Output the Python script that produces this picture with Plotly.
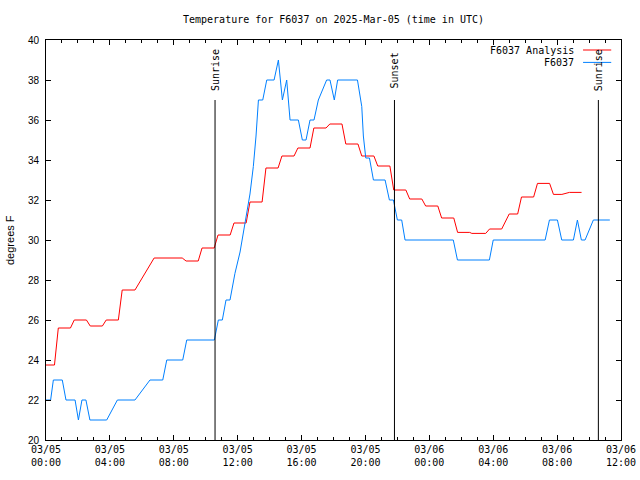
import pandas as pd
import plotly.graph_objects as go

# ---- data (hours after 2025-03-05 00:00 UTC, degrees F) ----
analysis_hours = [0, 0.53, 0.77, 1.53, 1.77, 2.53, 2.77, 3.53, 3.77, 4.53, 4.77, 5.57, 6.77,
                  8.53, 8.77, 9.53, 9.77, 10.53, 10.77, 11.53, 11.77, 12.53, 12.77, 13.53, 13.77,
                  14.53, 14.77, 15.53, 15.77, 16.53, 16.77, 17.53, 17.77, 18.53, 18.77, 19.53,
                  19.77, 20.53, 20.77, 21.53, 21.77, 22.53, 22.77, 23.53, 23.77, 24.53, 24.77,
                  25.53, 25.77, 26.53, 26.66, 27.53, 27.77, 28.53, 29.0, 29.53, 29.77, 30.53,
                  30.77, 31.53, 31.77, 32.3, 32.77, 33.53]
analysis_temp = [23.75, 23.75, 25.6, 25.6, 26.0, 26.0, 25.7, 25.7, 26.0, 26.0, 27.5, 27.5, 29.1,
                 29.1, 28.95, 28.95, 29.6, 29.6, 30.25, 30.25, 30.85, 30.85, 31.9, 31.9, 33.6,
                 33.6, 34.2, 34.2, 34.6, 34.6, 35.6, 35.6, 35.8, 35.8, 34.8, 34.8,
                 34.2, 34.2, 33.7, 33.7, 32.5, 32.5, 32.05, 32.05, 31.7, 31.7, 31.1,
                 31.1, 30.38, 30.38, 30.33, 30.33, 30.55, 30.55, 31.3, 31.3, 32.15, 32.15,
                 32.83, 32.83, 32.28, 32.28, 32.38, 32.38]

obs_hours = [0, 0.29, 0.46, 1.02, 1.25, 1.82, 2.03, 2.25, 2.5, 2.75, 3.8, 4.47, 5.57, 6.51,
             7.31, 7.56, 8.56, 8.81, 10.54, 10.79, 11.04, 11.27, 11.52, 11.83, 12.15, 12.5,
             12.77, 12.98, 13.15, 13.3, 13.57, 13.82, 14.28, 14.55, 14.8, 15.07, 15.28, 15.8,
             16.05, 16.28, 16.53, 16.78, 17.05, 17.57, 17.78, 18.05, 18.26, 19.5, 19.77, 19.87,
             20.02, 20.25, 20.5, 21.23, 21.5, 21.75, 22.0, 22.27, 22.48, 25.5, 25.76, 27.76,
             28.0, 31.25, 31.52, 32.02, 32.29, 33.02, 33.27, 33.52, 33.75, 34.27, 35.3]
obs_temp = [22.0, 22.0, 23.0, 23.0, 22.0, 22.0, 21.0, 22.0, 22.0, 21.0, 21.0, 22.0, 22.0, 23.0,
            23.0, 24.0, 24.0, 25.0, 25.0, 26.0, 26.0, 27.0, 27.0, 28.33, 29.4, 31.0,
            32.3, 33.67, 35.2, 37.0, 37.0, 38.0, 38.0, 39.0, 37.0, 38.0, 36.0, 36.0,
            35.0, 35.0, 36.0, 36.0, 37.0, 38.0, 38.0, 37.0, 38.0, 38.0, 36.67, 35.2,
            34.1, 34.1, 33.0, 33.0, 32.0, 32.0, 31.0, 31.0, 30.0, 30.0, 29.0, 29.0,
            30.0, 30.0, 31.0, 31.0, 30.0, 30.0, 31.0, 30.0, 30.0, 31.0, 31.0]

sun_times = ["2025-03-05 10:35", "2025-03-05 21:49", "2025-03-06 10:35"]
sun_labels = ["Sunrise", "Sunset", "Sunrise"]
sun_line_top = 37.0
sun_label_y = 38.5

series_names = ["F6037 Analysis", "F6037"]
series_colors = ["#ff0000", "#0080ff"]

base = pd.Timestamp("2025-03-05 00:00")
ax_t = base + pd.to_timedelta(analysis_hours, unit="h")
ob_t = base + pd.to_timedelta(obs_hours, unit="h")

MONO = "DejaVu Sans Mono"
SANS = "Liberation Sans"

fig = go.Figure()
fig.add_trace(go.Scatter(x=ax_t, y=analysis_temp, mode="lines", name=series_names[0],
                         line=dict(color=series_colors[0], width=1), showlegend=False))
fig.add_trace(go.Scatter(x=ob_t, y=obs_temp, mode="lines", name=series_names[1],
                         line=dict(color=series_colors[1], width=1), showlegend=False))

for t, lab in zip(sun_times, sun_labels):
    fig.add_trace(go.Scatter(x=[t, t], y=[20, sun_line_top], mode="lines",
                             line=dict(color="black", width=1), showlegend=False,
                             hoverinfo="skip"))
    fig.add_annotation(x=t, y=sun_label_y, xref="x", yref="y", text=lab, textangle=-90,
                       showarrow=False, font=dict(family=MONO, size=10, color="black"),
                       xanchor="center", yanchor="middle")

# manual legend (text left of sample, as in the reference)
leg_y = [0.975, 0.944]
for name, col, yy in zip(series_names, series_colors, leg_y):
    fig.add_annotation(x=0.921, y=yy, xref="paper", yref="paper", text=name, showarrow=False,
                       xanchor="right", yanchor="middle",
                       font=dict(family=MONO, size=10, color="black"))
    fig.add_shape(type="line", xref="paper", yref="paper", x0=0.934, x1=0.983, y0=yy, y1=yy,
                  line=dict(color=col, width=1))

# y-axis label
fig.add_annotation(x=-36 / 575, y=0.5, xref="paper", yref="paper", text="degrees F",
                   textangle=-90, showarrow=False, xanchor="center", yanchor="middle",
                   font=dict(family=SANS, size=11, color="black"))

fig.update_layout(
    width=640, height=480,
    margin=dict(l=46, r=19, t=40, b=40, autoexpand=False),
    paper_bgcolor="white", plot_bgcolor="white",
    title=dict(text="Temperature for F6037 on 2025-Mar-05 (time in UTC)",
               x=0.5, xref="paper", y=(480 - 19) / 480, yref="container",
               xanchor="center", yanchor="middle",
               font=dict(family=MONO, size=10, color="black")),
    showlegend=False,
)
fig.update_xaxes(
    type="date", range=["2025-03-05 00:00", "2025-03-06 12:00"], automargin=False,
    dtick=4 * 3600 * 1000, tick0="2025-03-05 00:00", tickformat="%m/%d<br>%H:%M",
    ticks="inside", ticklen=5, tickcolor="black", tickwidth=1,
    minor=dict(dtick=3600 * 1000, ticks="inside", ticklen=3, tickcolor="black"),
    showline=True, linecolor="black", linewidth=1, mirror="ticks",
    showgrid=False, zeroline=False,
    tickfont=dict(family=MONO, size=10, color="black"),
)
fig.update_yaxes(
    range=[20, 40], dtick=2, ticks="inside", ticklen=5, tickcolor="black", tickwidth=1,
    showline=True, linecolor="black", linewidth=1, mirror="ticks", automargin=False,
    showgrid=False, zeroline=False, ticklabelstandoff=4,
    tickfont=dict(family=SANS, size=10, color="black"),
)

fig.write_html("out.html", config={"displayModeBar": False},
               post_script="document.body.style.margin='0';")
